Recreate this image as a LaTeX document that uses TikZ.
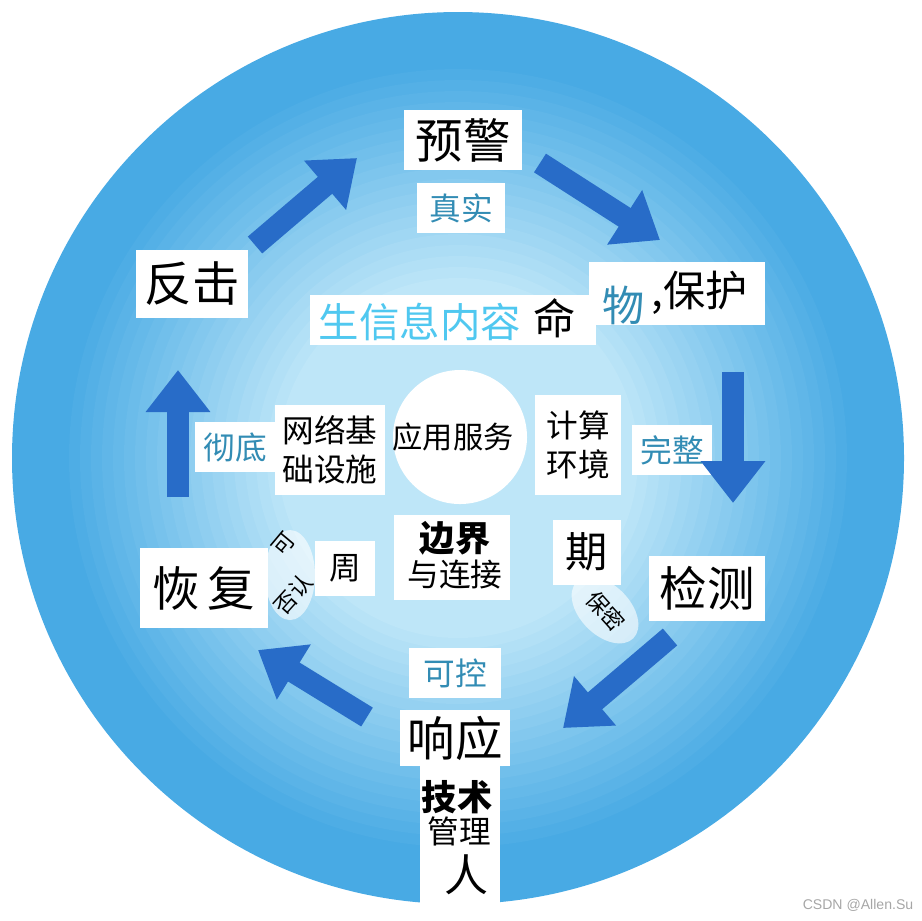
\documentclass[tikz,border=0pt]{standalone}
\usepackage{fontspec}
\newfontfamily\cjk{Noto Sans CJK SC}
\setsansfont{Liberation Sans}
\usetikzlibrary{arrows.meta}
\definecolor{ringa}{RGB}{72,170,228}
\definecolor{ringe}{RGB}{190,230,248}
\definecolor{arrowblue}{RGB}{40,108,200}
\definecolor{tealtext}{RGB}{50,140,180}
\definecolor{cyantext}{RGB}{80,200,240}
\begin{document}
\begin{tikzpicture}[x=0.01cm,y=-0.01cm,
  box/.style={fill=white,inner sep=0pt,align=center},
  huge/.style={font=\cjk\fontsize{13.5}{15}\selectfont},
  large/.style={font=\cjk\fontsize{12}{14}\selectfont},
  mid/.style={font=\cjk\fontsize{9}{11.2}\selectfont},
  tiny/.style={font=\cjk\fontsize{6.3}{7}\selectfont},
  bigarrow/.style={-{Triangle[length=0.42cm,width=0.62cm]},line width=6.3pt,draw=arrowblue}]

\useasboundingbox (0,0) rectangle (922,920);

\fill[ringa] (458,458) circle (446);
\foreach \i in {0,...,20}
  \fill[ringe!\the\numexpr\i*5\relax!ringa] (458,458) circle (400-\i*11);
\fill[white] (460,437) circle (67);

\node[box,huge,minimum width=1.17cm,minimum height=0.6cm] (yujing) at (463,140) {预警};
\node[box,mid,text=tealtext,minimum width=0.87cm,minimum height=0.5cm] (zhenshi) at (461,208) {真实};
\node[box,huge,minimum width=1.11cm,minimum height=0.68cm] (fanji) at (192,284) {反击};
\node[box,minimum width=2.85cm,minimum height=0.5cm] (shengming) at (453,320) {};
\node[font=\cjk\fontsize{11.5}{13}\selectfont,text=cyantext] (shengxin) at (420,322) {生信息内容};
\node[large] (ming) at (555,318) {命};
\node[box,minimum width=1.75cm,minimum height=0.63cm] (baohu) at (677,293) {};
\node[large,text=tealtext] (wu) at (624,305) {物};
\node[large] (douhao) at (700,293) {,保护};
\node[box,mid,minimum width=1.1cm,minimum height=0.9cm] (wangluo) at (330,450) {网络基\\础设施};
\node[font=\cjk\fontsize{8.6}{10}\selectfont] (yingyong) at (453,437) {应用服务};
\node[box,mid,minimum width=0.85cm,minimum height=1cm] (jisuan) at (578,445) {计算\\环境};
\node[box,mid,text=tealtext,minimum width=0.8cm,minimum height=0.5cm] (chedi) at (235,447) {彻底};
\node[box,mid,text=tealtext,minimum width=0.8cm,minimum height=0.5cm] (wanzheng) at (672,450) {完整};
\node[box,minimum width=1.15cm,minimum height=0.85cm] (bianjie) at (452,557) {};
\node[font=\cjk\bfseries\fontsize{10}{11}\selectfont] (bianjiet) at (455,538) {边界};
\node[mid] (lianjie) at (455,574) {与连接};
\node[box,large,minimum width=0.67cm,minimum height=0.65cm] (qi) at (587,552) {期};
\node[box,mid,minimum width=0.6cm,minimum height=0.55cm] (zhou) at (345,568) {周};
\node[box,huge,minimum width=1.28cm,minimum height=0.8cm] (huifu) at (204,588) {恢\,复};
\node[box,huge,minimum width=1.15cm,minimum height=0.65cm] (jiance) at (707,588) {检测};
\node[box,mid,text=tealtext,minimum width=0.92cm,minimum height=0.5cm] (kekong) at (455,673) {可控};
\node[box,minimum width=0.8cm,minimum height=1.4cm] (zhuzi) at (460,835) {};
\node[box,huge,minimum width=1.1cm,minimum height=0.56cm] (xiangying) at (455,738) {响应};
\node[font=\cjk\bfseries\fontsize{10}{12}\selectfont] (jishu) at (457,797) {技术};
\node[mid] (guanli) at (459,831) {管理};
\node[font=\cjk\fontsize{12.5}{14}\selectfont] (ren) at (466,875) {人};

\fill[white,opacity=0.6] (290,575) ellipse (25 and 45);
\node[tiny,rotate=50,inner sep=0pt] (ke) at (284,544) {可};
\node[tiny,rotate=48,inner sep=0pt] (fouren) at (293,594) {否认};
\fill[white,opacity=0.6,rotate around={-45:(605,610)}] (605,610) ellipse (40 and 25);
\node[tiny,rotate=-48,inner sep=0pt] (baomi) at (606,611) {保密};

\coordinate (fa) at (255,245);
\coordinate (ya) at (357,158);
\coordinate (yb) at (540,163);
\coordinate (ba) at (660,240);
\coordinate (bb) at (733,372);
\coordinate (ja) at (733,503);
\coordinate (jb) at (670,637);
\coordinate (xa) at (563,728);
\coordinate (xb) at (367,717);
\coordinate (ha) at (258,650);
\coordinate (hb) at (178,497);
\coordinate (fb) at (178,370);

\draw[bigarrow] (fa) -- (ya);
\draw[bigarrow] (yb) -- (ba);
\draw[bigarrow] (bb) -- (ja);
\draw[bigarrow] (jb) -- (xa);
\draw[bigarrow] (xb) -- (ha);
\draw[bigarrow] (hb) -- (fb);

\node[text=gray!70,font=\sffamily\fontsize{4}{5}\selectfont] (csdn) at (858,905) {CSDN @Allen.Su};

\end{tikzpicture}
\end{document}
